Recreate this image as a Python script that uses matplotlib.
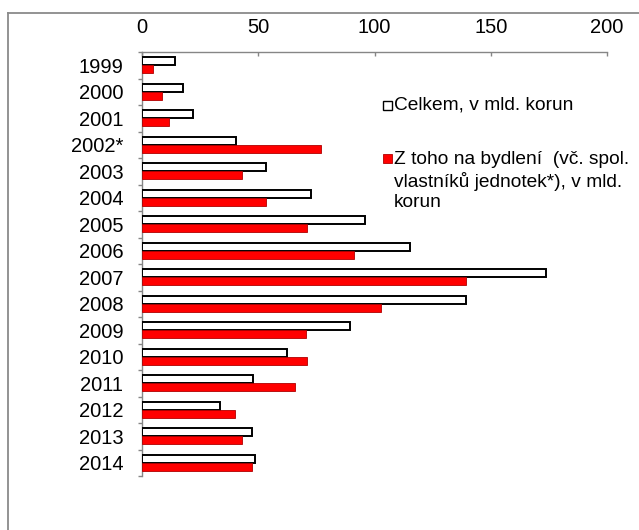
import matplotlib
matplotlib.use("Agg")
import matplotlib.pyplot as plt
from matplotlib.lines import Line2D
from matplotlib.patches import Rectangle
import numpy as np

plt.rcParams['font.family'] = ['Liberation Sans', 'DejaVu Sans']

years = ["1999", "2000", "2001", "2002*", "2003", "2004", "2005", "2006",
         "2007", "2008", "2009", "2010", "2011", "2012", "2013", "2014"]
celkem = [14.0, 17.5, 21.9, 40.6, 53.5, 72.5, 96.0, 115.4,
          173.8, 139.5, 89.3, 62.4, 47.8, 33.4, 47.5, 48.5]
bydleni = [4.9, 8.4, 11.4, 77.0, 43.0, 53.4, 71.1, 91.2,
           139.3, 102.8, 70.7, 71.0, 65.8, 40.0, 43.2, 47.5]
label_celkem = "Celkem, v mld. korun"
label_bydleni = "Z toho na bydlení  (vč. spol.\nvlastníků jednotek*), v mld.\nkorun"
xticks = [0, 50, 100, 150, 200]

W, H = 639, 530
fig = plt.figure(figsize=(W / 100, H / 100), dpi=100)

def fx(px):
    return px / W

def fy(py):
    return 1 - py / H

ax = fig.add_axes([fx(142), fy(476), fx(607) - fx(142), fy(52) - fy(476)])

n = len(years)
y = np.arange(n)
bh = 0.30
ax.barh(y - bh / 2, celkem, height=bh, color='white', edgecolor='black', linewidth=1.4, zorder=3)
ax.barh(y + bh / 2, bydleni, height=bh, color='#FF0000', edgecolor='#B00000', linewidth=0.6, zorder=3)

ax.set_xlim(0, 200)
ax.set_ylim(n - 0.5, -0.5)
ax.xaxis.tick_top()
ax.set_xticks(xticks)
ax.set_xticklabels([str(v) for v in xticks])
ax.tick_params(axis='x', which='major', direction='in', length=3.2, width=1.0,
               color='#868686', pad=11, labelsize=14.5, labelcolor='black')

ax.set_yticks(y)
ax.set_yticklabels(years)
ax.tick_params(axis='y', which='major', length=0, pad=13.5, labelsize=14.5, labelcolor='black')
ax.set_yticks(np.arange(-0.5, n, 1.0), minor=True)
ax.tick_params(axis='y', which='minor', direction='out', length=3.2, width=1.0, color='#868686')

for s in ['right', 'bottom']:
    ax.spines[s].set_visible(False)
for s in ['left', 'top']:
    ax.spines[s].set_color('#868686')
    ax.spines[s].set_linewidth(1.0)

# legend (manual)
fig.patches.append(Rectangle((fx(383), fy(110)), fx(9), fy(101) - fy(110), transform=fig.transFigure,
                             facecolor='white', edgecolor='black', linewidth=1.0))
fig.text(fx(394), fy(105), label_celkem, fontsize=13.8, va='center', ha='left')
fig.patches.append(Rectangle((fx(383), fy(163)), fx(9), fy(154) - fy(163), transform=fig.transFigure,
                             facecolor='#FF0000', edgecolor='#B00000', linewidth=0.6))
fig.text(fx(394), fy(151), label_bydleni, fontsize=13.8, va='top', ha='left', linespacing=1.24)

# outer frame
fig.lines.append(Line2D([fx(8), fx(8)], [fy(13), 0], transform=fig.transFigure, color='#8a8a8a', linewidth=1.3))
fig.lines.append(Line2D([fx(8), 1], [fy(13), fy(13)], transform=fig.transFigure, color='#8a8a8a', linewidth=1.3))

fig.savefig("out.png", dpi=100)
